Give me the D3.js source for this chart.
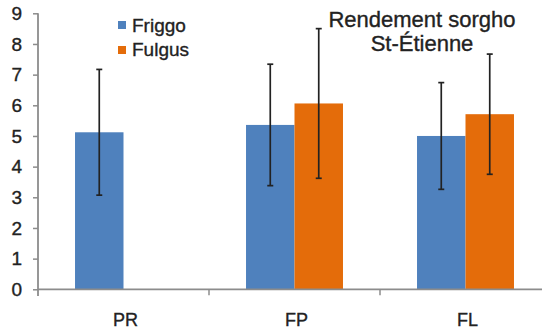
<!DOCTYPE html>
<html><head><meta charset="utf-8">
<script src="https://cdn.jsdelivr.net/npm/d3@7"></script>
<style>body{margin:0;background:#fff}svg{display:block}text{font-family:"Liberation Sans",Arial,sans-serif;fill:#222;stroke:#222;stroke-width:0.35px}</style>
</head><body><div id="c"></div>
<script>
const categories = ["PR","FP","FL"];
const seriesNames = ["Friggo","Fulgus"];
const friggo = [5.12, 5.36, 5.0];
const friggoErr = [2.05, 1.98, 1.74];
const fulgus = [null, 6.06, 5.71];
const fulgusErr = [null, 2.44, 1.96];
const yTicks = [0,1,2,3,4,5,6,7,8,9];
const titleLines = ["Rendement sorgho","St-Étienne"];
const colors = ["#4F81BD","#E46C0A"];

const W=542,H=331;
const svg=d3.select("#c").append("svg").attr("width",W).attr("height",H);
const y=d3.scaleLinear().domain([0,9]).range([289.3,13.3]);
const x0=d3.scaleBand().domain(categories).range([38,551]).paddingInner(0.433).paddingOuter(0.2165);
const x1=d3.scaleBand().domain(seriesNames).range([0,x0.bandwidth()]);

const data=[];
categories.forEach((c,i)=>{
  [[friggo,friggoErr],[fulgus,fulgusErr]].forEach(([v,e],j)=>{
    if(v[i]!=null) data.push({c,s:seriesNames[j],v:v[i],e:e[i],j});
  });
});

// bars
svg.append("g").selectAll("rect").data(data).join("rect")
  .attr("x",d=>x0(d.c)+x1(d.s)).attr("width",x1.bandwidth())
  .attr("y",d=>y(d.v)).attr("height",d=>y(0)-y(d.v))
  .attr("fill",d=>colors[d.j]);

// error bars
const eg=svg.append("g").attr("stroke","#222").attr("stroke-width",1.7);
data.forEach(d=>{
  const cx=x0(d.c)+x1(d.s)+x1.bandwidth()/2;
  eg.append("line").attr("x1",cx).attr("x2",cx).attr("y1",y(d.v+d.e)).attr("y2",y(d.v-d.e));
  eg.append("line").attr("x1",cx-3).attr("x2",cx+3).attr("y1",y(d.v+d.e)).attr("y2",y(d.v+d.e));
  eg.append("line").attr("x1",cx-3).attr("x2",cx+3).attr("y1",y(d.v-d.e)).attr("y2",y(d.v-d.e));
});

// y axis
const ya=svg.append("g").attr("transform","translate(38,0)")
  .call(d3.axisLeft(y).tickValues(yTicks).tickSize(5).tickSizeOuter(0).tickPadding(11));
ya.select(".domain").attr("stroke","#8c8c8c").attr("stroke-width",1.8).attr("d","M0,13.3V296");
ya.selectAll(".tick line").attr("stroke","#8c8c8c").attr("stroke-width",1.5);
ya.selectAll(".tick text").attr("font-size",19).attr("fill","#222").attr("font-family","Liberation Sans, Arial, sans-serif");

// x axis
const xa=svg.append("g").attr("transform",`translate(0,${y(0)})`)
  .call(d3.axisBottom(x0).tickSize(0).tickSizeOuter(0).tickPadding(24));
xa.select(".domain").attr("stroke","#8c8c8c").attr("stroke-width",1.8).attr("d","M38,0H542");
xa.selectAll(".tick text").attr("font-size",18).attr("fill","#222").attr("font-family","Liberation Sans, Arial, sans-serif").attr("dx",2);
// category boundary ticks
svg.append("g").selectAll("line").data(categories.slice(1)).join("line")
  .attr("x1",d=>x0(d)-x0.step()*x0.paddingInner()/2).attr("x2",d=>x0(d)-x0.step()*x0.paddingInner()/2)
  .attr("y1",y(0)).attr("y2",y(0)+6).attr("stroke","#8c8c8c").attr("stroke-width",1.5);

// legend
const lg=svg.append("g");
seriesNames.forEach((s,i)=>{
  lg.append("rect").attr("x",118).attr("y",21+i*25).attr("width",8).attr("height",8).attr("fill",colors[i]);
  lg.append("text").attr("x",132).attr("y",31.5+i*24).attr("font-size",19).text(s);
});

// title
svg.append("g").selectAll("text").data(titleLines).join("text")
  .attr("x",422).attr("y",(d,i)=>27+i*23.5).attr("text-anchor","middle")
  .attr("font-size",22).text(d=>d);
</script></body></html>
